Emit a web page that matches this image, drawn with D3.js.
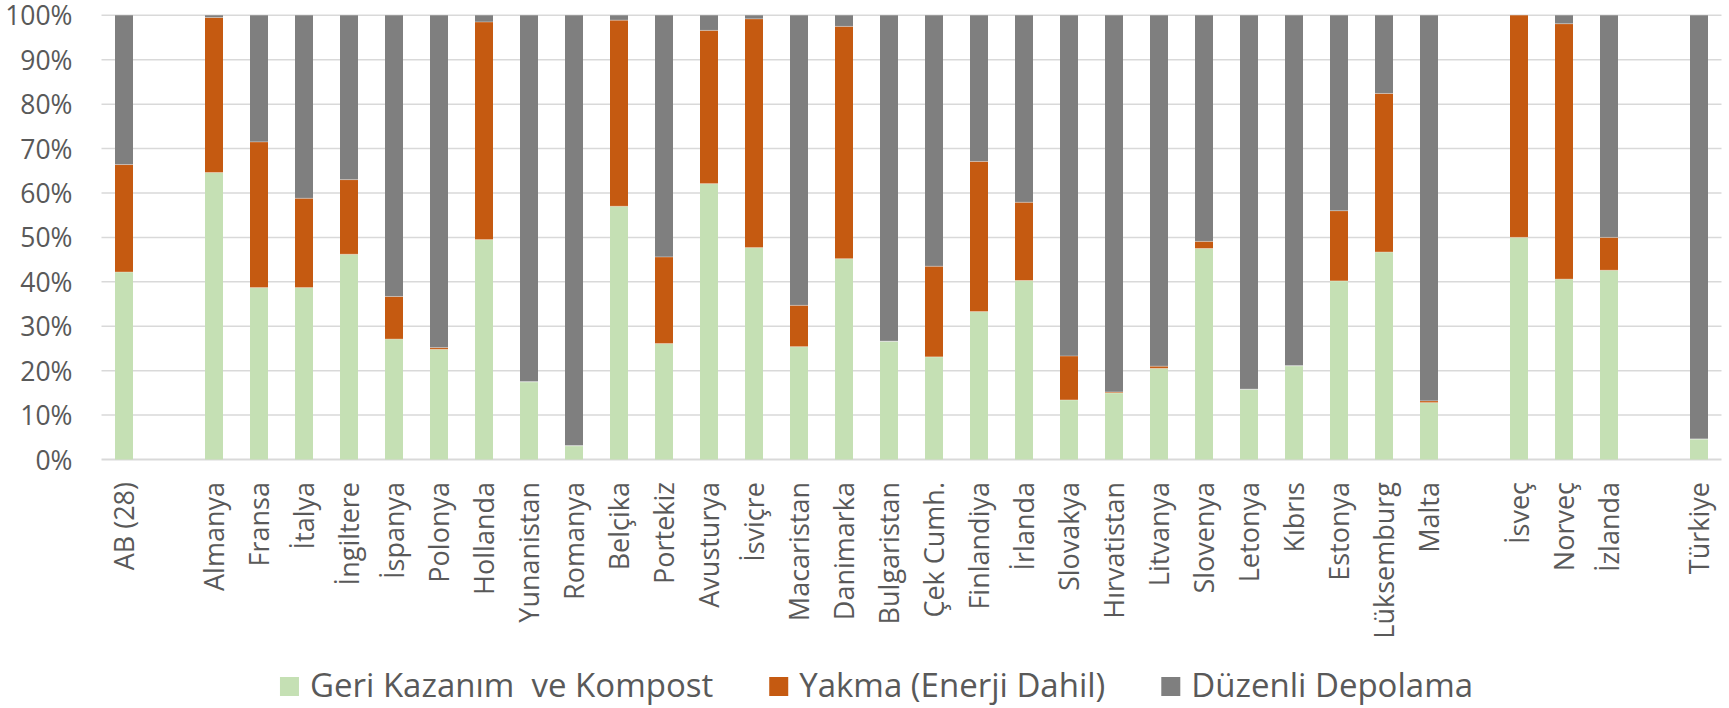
<!DOCTYPE html>
<html>
<head>
<meta charset="utf-8">
<script src="https://cdn.jsdelivr.net/npm/d3@7"></script>
<style>
  html, body { margin: 0; padding: 0; background: #ffffff; }
  svg { display: block; }
  text { font-family: "Open Sans", "Noto Sans", sans-serif; fill: #595959; }
</style>
</head>
<body>
<svg id="chart" width="1729" height="708"></svg>
<script>
// ---- data (values in %) ----
const categories = ["AB (28)", "", "Almanya", "Fransa", "İtalya", "İngiltere", "İspanya", "Polonya", "Hollanda", "Yunanistan", "Romanya", "Belçika", "Portekiz", "Avusturya", "İsviçre", "Macaristan", "Danimarka", "Bulgaristan", "Çek Cumh.", "Finlandiya", "İrlanda", "Slovakya", "Hırvatistan", "Litvanya", "Slovenya", "Letonya", "Kıbrıs", "Estonya", "Lüksemburg", "Malta", "", "İsveç", "Norveç", "İzlanda", "", "Türkiye"];
const geriKazanim = [42.2, null, 64.6, 38.7, 38.7, 46.2, 27.1, 24.8, 49.5, 17.5, 3.1, 57.0, 26.1, 62.1, 47.7, 25.4, 45.2, 26.6, 23.1, 33.3, 40.3, 13.4, 15.0, 20.5, 47.5, 15.8, 21.1, 40.2, 46.7, 12.8, null, 50.0, 40.6, 42.6, null, 4.6];
const yakma = [24.2, null, 34.9, 32.8, 20.1, 16.8, 9.6, 0.4, 49.0, 0, 0, 41.9, 19.5, 34.5, 51.5, 9.3, 52.3, 0, 20.4, 33.8, 17.6, 9.9, 0.2, 0.5, 1.6, 0, 0, 15.8, 35.7, 0.4, null, 50.0, 57.5, 7.4, null, 0];
const depolama = [33.6, null, 0.5, 28.5, 41.2, 37.0, 63.3, 74.8, 1.5, 82.5, 96.9, 1.1, 54.4, 3.4, 0.8, 65.3, 2.5, 73.4, 56.5, 32.9, 42.1, 76.7, 84.8, 79.0, 50.9, 84.2, 78.9, 44.0, 17.6, 86.8, null, 0, 1.9, 50.0, null, 95.4];
const seriesNames = ["Geri Kazanım  ve Kompost", "Yakma (Enerji Dahil)", "Düzenli Depolama"];
const seriesColors = ["#c5e0b4", "#c55a11", "#7f7f7f"];
const yTicks = [0, 10, 20, 30, 40, 50, 60, 70, 80, 90, 100];

const svg = d3.select("#chart");
const plotLeft = 101.5, plotRight = 1721.5, plotTop = 15.3, plotBottom = 459.5;

const idx = categories.map((c, i) => i);
const x = d3.scaleBand().domain(idx).range([plotLeft, plotRight]).paddingInner(0.6).paddingOuter(0.3);
const y = d3.scaleLinear().domain([0, 100]).range([plotBottom, plotTop]);

// gridlines
svg.append("g").selectAll("line").data(yTicks).join("line")
  .attr("x1", plotLeft).attr("x2", plotRight)
  .attr("y1", d => y(d)).attr("y2", d => y(d))
  .attr("stroke", "#d9d9d9").attr("stroke-width", d => d === 0 ? 2 : 1.5);

// y axis labels
const yAxis = d3.axisLeft(y).tickValues(yTicks).tickFormat(d => d + "%").tickSize(0).tickPadding(0);
const yg = svg.append("g").attr("transform", `translate(${72.5},0)`).call(yAxis);
yg.select(".domain").remove();
yg.selectAll("text").attr("font-size", 26.5).attr("fill", "#595959")
  .attr("font-family", "'Open Sans', sans-serif").attr("dy", "0.36em");

// stacked data
const rows = idx.map(i => ({ i, v: [geriKazanim[i], yakma[i], depolama[i]] })).filter(r => r.v[0] !== null);
const stack = d3.stack().keys([0, 1, 2]).value((r, k) => r.v[k]);
const layers = stack(rows);

const g = svg.append("g");
layers.forEach((layer, k) => {
  g.append("g").selectAll("rect").data(layer.filter(d => d[1] - d[0] > 0)).join("rect")
    .attr("x", d => x(d.data.i))
    .attr("width", x.bandwidth())
    .attr("y", d => y(d[1]))
    .attr("height", d => y(d[0]) - y(d[1]))
    .attr("fill", seriesColors[k]);
});
// faint segment separators
layers.slice(0, 2).forEach(layer => {
  g.append("g").selectAll("line").data(layer.filter(d => d[1] > 0 && d[1] < 100)).join("line")
    .attr("x1", d => x(d.data.i)).attr("x2", d => x(d.data.i) + x.bandwidth())
    .attr("y1", d => y(d[1])).attr("y2", d => y(d[1]))
    .attr("stroke", "#ffffff").attr("stroke-opacity", 0.35).attr("stroke-width", 1);
});

// x labels (rotated)
const xg = svg.append("g");
categories.forEach((c, i) => {
  if (!c) return;
  const cx = x(i) + x.bandwidth() / 2;
  xg.append("text")
    .attr("transform", `translate(${cx},${482}) rotate(-90)`)
    .attr("text-anchor", "end")
    .attr("dy", "0.36em")
    .attr("font-size", 27)
    .text(c);
});

// legend
const lg = svg.append("g");
const items = [];
seriesNames.forEach((name, k) => {
  const it = lg.append("g");
  it.append("rect").attr("width", 19).attr("height", 19).attr("y", 677).attr("fill", seriesColors[k]);
  const t = it.append("text").attr("x", 30).attr("y", 697).attr("font-size", 33).text(name).style("white-space", "pre");
  items.push({ it, w: 30 + t.node().getComputedTextLength() });
});
const gap = 56;
const total = d3.sum(items, d => d.w) + gap * (items.length - 1);
let cur = 876.5 - total / 2;
items.forEach(d => { d.it.attr("transform", `translate(${cur},0)`); cur += d.w + gap; });
</script>
</body>
</html>
